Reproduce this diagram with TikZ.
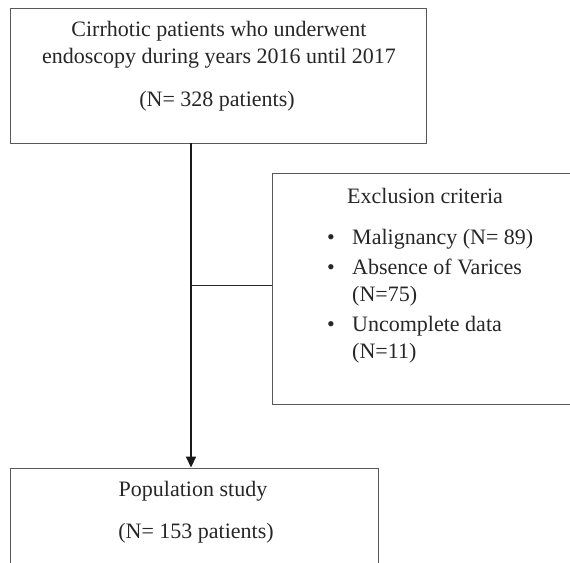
\documentclass[tikz,border=0pt]{standalone}
\usepackage{fontspec}
\setmainfont{Liberation Serif}
\usetikzlibrary{arrows.meta}

\begin{document}
\begin{tikzpicture}[x=1pt, y=1pt, font=\fontsize{22}{27}\selectfont]
        \tikzset{
            box/.style={rectangle, draw=black!65, line width=0.9pt},
            txt/.style={anchor=base, inner sep=0pt, text=black!85}
        }
        \useasboundingbox (0,0) rectangle (570,-562);
        \clip (0,0) rectangle (570,-562);
        % boxes
        \node[box, minimum width=416pt, minimum height=135pt] (cohort) at (218,-75.5) {};
        \node[box, minimum width=300pt, minimum height=231pt] (excluded) at (422,-288.5) {};
        \node[box, minimum width=368pt, minimum height=112pt] (population) at (194,-524) {};
        % texts
        \node[txt] (cohorttitle) at (219,-36) {Cirrhotic patients who underwent};
        \node[txt] (cohortyears) at (219,-63) {endoscopy during years 2016 until 2017};
        \node[txt] (cohortcount) at (217,-106) {(N= 328 patients)};
        \node[txt, anchor=base west] (excludedtitle) at (347,-203) {Exclusion criteria};
        % base of a multi-line node = its last line
        \node[txt, anchor=base west, align=left] (criteria) at (327,-358)
            {\makebox[25pt][l]{\textbullet}Malignancy (N= 89)\\[3pt]
             \makebox[25pt][l]{\textbullet}Absence of Varices\\
             \hspace*{25pt}(N=75)\\[3pt]
             \makebox[25pt][l]{\textbullet}Uncomplete data\\
             \hspace*{25pt}(N=11)};
        \node[txt] (populationtitle) at (193,-496) {Population study};
        \node[txt] (populationcount) at (196,-538) {(N= 153 patients)};
        % connectors
        \coordinate (trunk) at ([xshift=-3pt]population.north);
        \coordinate (branch) at ([yshift=3.5pt]excluded.west);
        \draw[-{Stealth[length=11pt, width=10pt, inset=0pt]}, line width=1.6pt, black!90]
            (trunk |- cohort.south) -- (trunk);
        \draw[line width=0.9pt, black!85] (branch) -- (branch -| trunk);
    \end{tikzpicture}
\end{document}
